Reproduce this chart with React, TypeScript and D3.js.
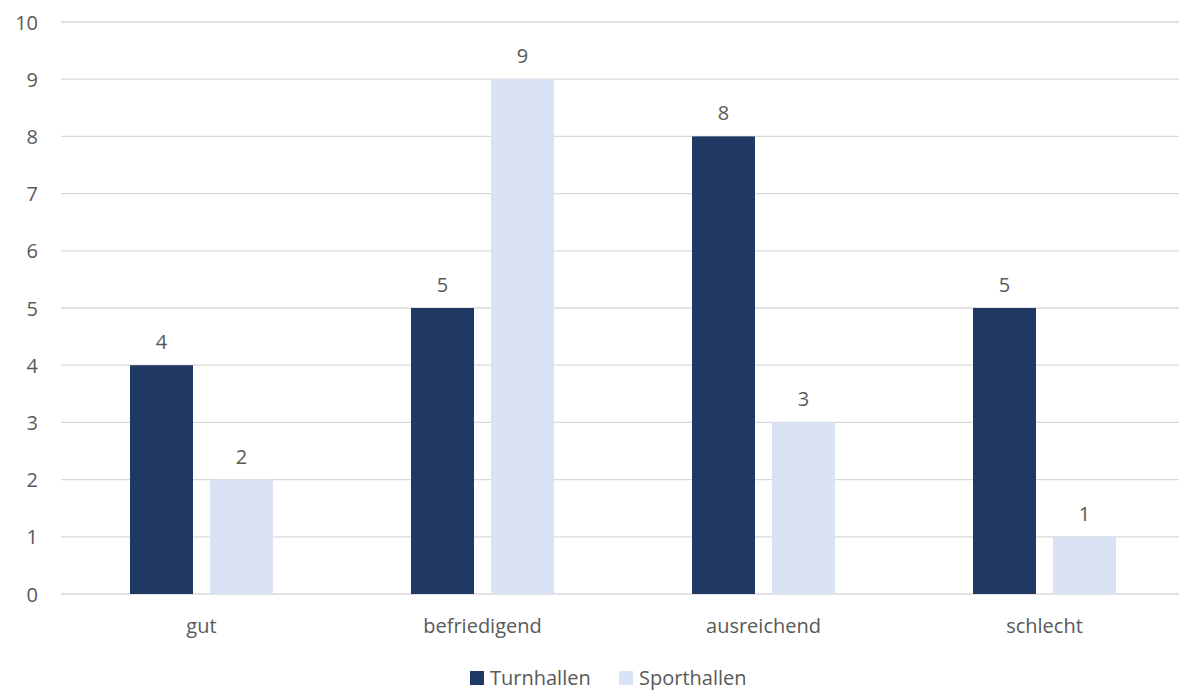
import React from "react";
import * as d3 from "d3";

const categories = ["gut", "befriedigend", "ausreichend", "schlecht"];
const seriesNames = ["Turnhallen", "Sporthallen"];
const turnhallen = [4, 5, 8, 5];
const sporthallen = [2, 9, 3, 1];
const yTicks = [0, 1, 2, 3, 4, 5, 6, 7, 8, 9, 10];
const colors = ["#203864", "#DAE3F3"];

const W = 1179;
const H = 690;
const FONT = "'Open Sans', sans-serif";
const TEXT = "#595959";

export default function App() {
  const x = d3.scaleBand<string>().domain(categories).range([61, 1185]).padding(0);
  const xInner = d3
    .scaleBand<string>()
    .domain(seriesNames)
    .range([0, x.bandwidth()])
    .paddingInner(0.2125)
    .paddingOuter(0.8625);
  const y = d3.scaleLinear().domain([0, 10]).range([594, 22]);
  const series = [turnhallen, sporthallen];

  return (
    <svg
      width={W}
      height={H}
      style={{ position: "absolute", left: 0, top: 0, background: "#fff" }}
      fontFamily={FONT}
    >
      <rect width={W} height={H} fill="#fff" />
      {yTicks.map((t) => (
        <g key={t}>
          <line x1={61} x2={W} y1={y(t)} y2={y(t)} stroke="#D9D9D9" strokeWidth={1.3} />
          <text
            x={38}
            y={y(t)}
            textAnchor="end"
            dominantBaseline="central"
            fontSize={20}
            fill={TEXT}
          >
            {t}
          </text>
        </g>
      ))}
      {categories.map((c, i) => (
        <g key={c}>
          {seriesNames.map((s, j) => {
            const v = series[j][i];
            const bx = (x(c) as number) + (xInner(s) as number);
            return (
              <g key={s}>
                <rect
                  x={bx}
                  y={y(v)}
                  width={xInner.bandwidth()}
                  height={y(0) - y(v)}
                  fill={colors[j]}
                />
                <text
                  x={bx + xInner.bandwidth() / 2}
                  y={y(v) - 16}
                  textAnchor="middle"
                  fontSize={20}
                  fill={TEXT}
                >
                  {v}
                </text>
              </g>
            );
          })}
          <text
            x={(x(c) as number) + x.bandwidth() / 2}
            y={633}
            textAnchor="middle"
            fontSize={20}
            fill={TEXT}
          >
            {c}
          </text>
        </g>
      ))}
      <g>
        <rect x={470} y={671} width={14} height={14} fill={colors[0]} />
        <text x={490} y={685} fontSize={20} fill={TEXT}>
          {seriesNames[0]}
        </text>
        <rect x={619} y={671} width={14} height={14} fill={colors[1]} />
        <text x={639} y={685} fontSize={20} fill={TEXT}>
          {seriesNames[1]}
        </text>
      </g>
    </svg>
  );
}
